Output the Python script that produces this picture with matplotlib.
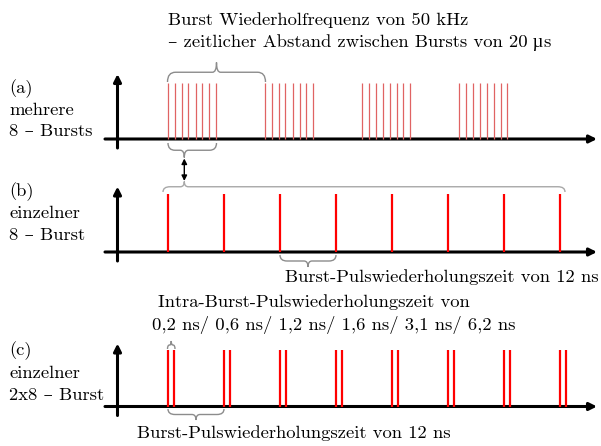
import matplotlib
matplotlib.use("Agg")
import matplotlib.pyplot as plt
from matplotlib.path import Path
from matplotlib.patches import PathPatch

# ---- data (schematic timing) ----
burst_starts_us = [0, 20, 40, 60]
burst_pulse_offsets_us = [0, 1.4, 2.8, 4.2, 5.7, 7.1, 8.5, 9.9]
pulse_times_ns = [0, 12, 24, 36, 48, 60, 72, 84]
intra_gap_ns = 1.2

title_line1 = "Burst Wiederholfrequenz von 50 kHz"
# second line split so the micro sign comes from a font that has it
title_line2 = [("\u2013 zeitlicher Abstand zwischen Bursts von 20", "cmr10"),
               (" \u00b5", "Liberation Serif"),
               ("s", "cmr10")]
labels_a = ["(a)", "mehrere", "8 \u2013 Bursts"]
labels_b = ["(b)", "einzelner", "8 \u2013 Burst"]
labels_c = ["(c)", "einzelner", "2x8 \u2013 Burst"]
period_text = "Burst-Pulswiederholungszeit von 12 ns"
intra_lines = ["Intra-Burst-Pulswiederholungszeit von",
               "0,2 ns/ 0,6 ns/ 1,2 ns/ 1,6 ns/ 3,1 ns/ 6,2 ns"]

plt.rcParams["font.family"] = ["cmr10", "DejaVu Serif"]
FS = 13.4
W, H = 601, 446
X0 = 168          # pixel of t = 0
US_PX = 97.1 / 20  # px per us in (a)
NS_PX = 56 / 12    # px per ns in (b), (c)

fig = plt.figure(figsize=(W / 100, H / 100), dpi=100)

# overlay in pixel coords for axes arrows, braces and text
ov = fig.add_axes([0, 0, 1, 1])
ov.set_xlim(0, W)
ov.set_ylim(H, 0)
ov.axis("off")


def panel(scale, y_base, y_top):
    ax = fig.add_axes([0, 0, 1, 1])
    ax.set_xlim(-X0 / scale, (W - X0) / scale)
    h = y_base - y_top
    ax.set_ylim((y_base - H) / h, y_base / h)
    ax.axis("off")
    return ax


def axis_arrows(y_base, y_top):
    kw = dict(arrowstyle="-|>", lw=2.2, color="black", mutation_scale=11,
              shrinkA=0, shrinkB=0)
    ov.annotate("", xy=(597, y_base), xytext=(105, y_base), arrowprops=kw)
    ov.annotate("", xy=(117.5, y_top), xytext=(117.5, y_base + 9), arrowprops=kw)


def brace(x0, x1, y_end, y_tip, xt=None, r_end=8, r_tip=4, color="#8c8c8c", lw=1.0):
    if xt is None:
        xt = (x0 + x1) / 2
    ym = (y_end + y_tip) / 2
    verts = [(x0, y_end), (x0, ym), (x0 + r_end, ym),
             (xt - r_tip, ym),
             (xt, ym), (xt, y_tip),
             (xt, ym), (xt + r_tip, ym),
             (x1 - r_end, ym),
             (x1, ym), (x1, y_end)]
    codes = [Path.MOVETO, Path.CURVE3, Path.CURVE3, Path.LINETO,
             Path.CURVE3, Path.CURVE3, Path.CURVE3, Path.CURVE3,
             Path.LINETO, Path.CURVE3, Path.CURVE3]
    ov.add_patch(PathPatch(Path(verts, codes), fc="none", ec=color, lw=lw))


def label_block(lines, x, y0, dy):
    for i, s in enumerate(lines):
        ov.text(x, y0 + i * dy, s, fontsize=FS, va="baseline", ha="left")


def pieces_text(x, y, parts):
    renderer = fig.canvas.get_renderer()
    for s, fam in parts:
        t = ov.text(x, y, s, fontsize=FS, va="baseline",
                    family=[fam, "DejaVu Serif"])
        x = t.get_window_extent(renderer).x1


# ---- (a) several 8-bursts ----
ax_a = panel(US_PX, 139, 82.5)
for s in burst_starts_us:
    ax_a.vlines([s + o for o in burst_pulse_offsets_us], 0, 1,
                color="#e06363", lw=0.9)
axis_arrows(139, 74)
label_block(labels_a, 9, 93.5, 21.5)

# ---- (b) single 8-burst ----
ax_b = panel(NS_PX, 252, 194)
ax_b.vlines(pulse_times_ns, 0, 1, color="red", lw=1.6)
axis_arrows(252, 186.5)
label_block(labels_b, 9, 196.5, 21.5)

# ---- (c) single 2x8-burst ----
ax_c = panel(NS_PX, 406.5, 350)
ax_c.vlines(pulse_times_ns, 0, 1, color="red", lw=1.6)
ax_c.vlines([t + intra_gap_ns for t in pulse_times_ns], 0, 1, color="red", lw=1.6)
axis_arrows(406.5, 343.5)
label_block(labels_c, 9, 355, 22.5)

# ---- braces and annotations ----
brace(167.5, 265.5, 82, 62.5, xt=216.5)
brace(168, 216.5, 143, 157.5, xt=184.3, r_end=7)
brace(163, 565, 192, 181.5, xt=184.3, r_end=7, color="#a8a8a8")
brace(280, 336, 255, 267, r_end=7)
brace(167.5, 175, 349, 341, r_end=2, r_tip=1.5)
brace(168, 224, 409, 420, r_end=7)

ov.annotate("", xy=(184.3, 158.5), xytext=(184.3, 181),
            arrowprops=dict(arrowstyle="<|-|>", lw=1.0, color="black",
                            mutation_scale=8, shrinkA=0, shrinkB=0))

ov.text(168, 25.5, title_line1, fontsize=FS, va="baseline")
pieces_text(168, 47, title_line2)
ov.text(285, 282, period_text, fontsize=FS, va="baseline")
ov.text(158, 307, intra_lines[0], fontsize=FS, va="baseline")
ov.text(152, 330, intra_lines[1], fontsize=FS, va="baseline")
ov.text(137, 438, period_text, fontsize=FS, va="baseline")

fig.savefig("out.png", dpi=100)
